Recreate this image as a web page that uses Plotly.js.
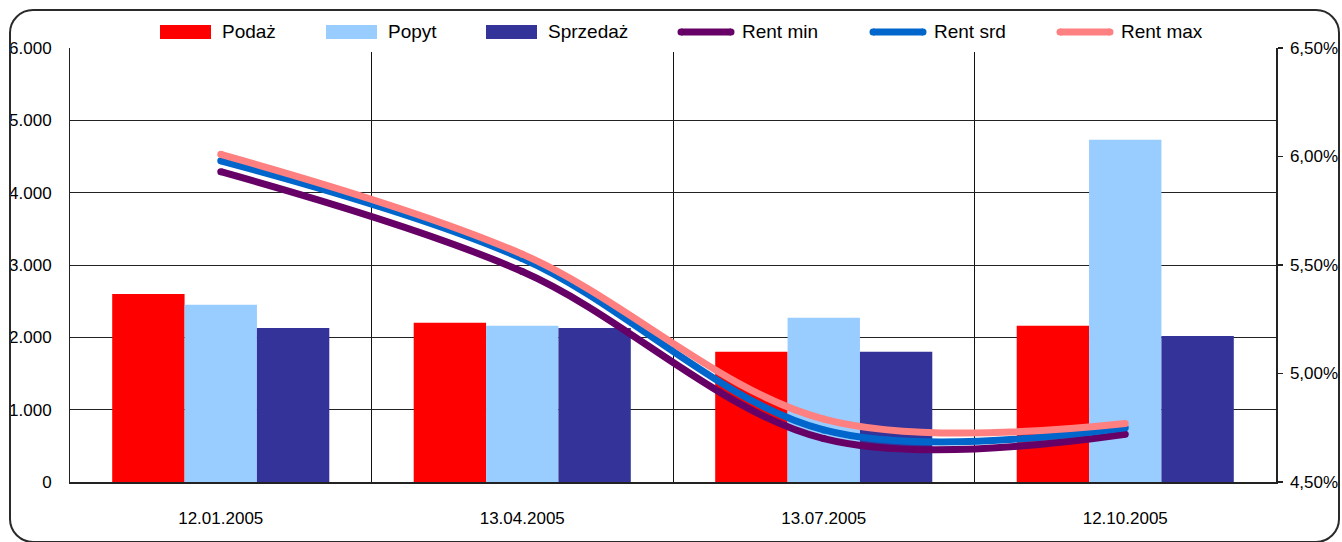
<!DOCTYPE html>
<html>
<head>
<meta charset="utf-8">
<script src="https://cdn.plot.ly/plotly-3.0.1.min.js"></script>
<style>
  html, body { margin: 0; padding: 0; background: #fff; }
  #wrap { position: relative; width: 1342px; height: 542px; overflow: hidden; }
  #chart { position: absolute; left: 0; top: 0; width: 1342px; height: 542px; }
  #frame {
    position: absolute; left: 9px; top: 9px; width: 1327px; height: 530px;
    border: 2px solid #2a2a2a; border-radius: 24px; pointer-events: none;
  }
</style>
</head>
<body>
<div id="wrap">
  <div id="chart"></div>
  <div id="frame"></div>
</div>
<script>
// Quarterly survey dates
const dates = ['12.01.2005', '13.04.2005', '13.07.2005', '12.10.2005'];

// Volumes (left axis)
const podaz    = [2600, 2200, 1800, 2160];
const popyt    = [2450, 2160, 2270, 4730];
const sprzedaz = [2130, 2130, 1800, 2020];

// Yields in percent (right axis)
const rentMin = [5.93, 5.47, 4.70, 4.72];
const rentSrd = [5.98, 5.53, 4.74, 4.75];
const rentMax = [6.01, 5.55, 4.79, 4.77];

// Series names and colours
const barNames  = ['Podaż', 'Popyt', 'Sprzedaż'];
const barColors = ['#FF0000', '#99CCFF', '#333399'];
const lineNames  = ['Rent min', 'Rent srd', 'Rent max'];
const lineColors = ['#660066', '#0066CC', '#FF8080'];

const FONT = 'Liberation Sans, Arial, Helvetica, sans-serif';

const barValues  = [podaz, popyt, sprzedaz];
const lineValues = [rentMin, rentSrd, rentMax];

const traces = [];
barValues.forEach((vals, i) => {
  traces.push({
    type: 'bar', x: dates, y: vals, name: barNames[i],
    marker: { color: barColors[i], line: { width: 0 } },
    xaxis: 'x', yaxis: 'y', hoverinfo: 'skip'
  });
});
lineValues.forEach((vals, i) => {
  traces.push({
    type: 'scatter', mode: 'lines+markers', x: dates, y: vals, name: lineNames[i],
    line: { color: lineColors[i], width: 7, shape: 'spline', smoothing: 1 },
    marker: { color: lineColors[i], size: 7, line: { width: 0 } },
    xaxis: 'x', yaxis: 'y2', hoverinfo: 'skip'
  });
});

// Plot area in pixels: x 70..1276, y 48..482
const L = 70, R = 1276, T = 48, B = 482;
const px = v => (v - L) / (R - L);
const py = v => (B - v) / (B - T);

// Legend box (white, sits over the top edge of the plot area)
const shapes = [{
  type: 'rect', xref: 'paper', yref: 'paper', layer: 'above',
  x0: px(134), x1: px(1225), y0: py(52), y1: py(14),
  fillcolor: '#ffffff', line: { width: 0 }
}];
const annotations = [];

const barSwatchX  = [160, 326, 486];
const lineSwatchX = [678, 870, 1057];
const legY = 32;

barNames.forEach((n, i) => {
  const x0 = barSwatchX[i];
  shapes.push({
    type: 'rect', xref: 'paper', yref: 'paper', layer: 'above',
    x0: px(x0), x1: px(x0 + 51), y0: py(legY + 7), y1: py(legY - 7),
    fillcolor: barColors[i], line: { width: 0 }
  });
  annotations.push({
    xref: 'paper', yref: 'paper', x: px(x0 + 60), y: py(legY),
    xanchor: 'left', yanchor: 'middle', showarrow: false, text: n,
    font: { family: FONT, size: 19, color: '#000' }
  });
});
lineNames.forEach((n, i) => {
  const x0 = lineSwatchX[i];
  shapes.push({
    type: 'line', xref: 'paper', yref: 'paper', layer: 'above',
    x0: px(x0 + 3), x1: px(x0 + 53), y0: py(legY), y1: py(legY),
    line: { color: lineColors[i], width: 7 }
  });
  [x0 + 3, x0 + 53].forEach(cx => {
    shapes.push({
      type: 'circle', xref: 'paper', yref: 'paper', layer: 'above',
      x0: px(cx - 3.5), x1: px(cx + 3.5), y0: py(legY + 3.5), y1: py(legY - 3.5),
      fillcolor: lineColors[i], line: { width: 0 }
    });
  });
  annotations.push({
    xref: 'paper', yref: 'paper', x: px(x0 + 62), y: py(legY),
    xanchor: 'left', yanchor: 'middle', showarrow: false, text: n,
    font: { family: FONT, size: 19, color: '#000' }
  });
});

const layout = {
  width: 1342, height: 542,
  margin: { l: L, r: 1342 - R, t: T, b: 542 - B, pad: 0 },
  paper_bgcolor: '#ffffff', plot_bgcolor: '#ffffff',
  separators: ',.',
  showlegend: false,
  barmode: 'group', bargap: 0.28, bargroupgap: 0,
  font: { family: FONT, size: 17, color: '#000' },
  xaxis: {
    type: 'category', tickson: 'boundaries',
    showgrid: true, gridcolor: '#111', gridwidth: 1,
    showline: true, linecolor: '#222', linewidth: 1.5,
    ticks: '', ticklabelstandoff: 20,
    tickfont: { family: FONT, size: 17, color: '#000' },
    zeroline: false, fixedrange: true
  },
  yaxis: {
    range: [0, 6000], dtick: 1000, tickformat: ',d',
    showgrid: true, gridcolor: '#222', gridwidth: 1,
    showline: true, linecolor: '#222', linewidth: 1,
    ticks: '', ticklabelstandoff: 14, zeroline: false,
    tickfont: { family: FONT, size: 17, color: '#000' },
    fixedrange: true
  },
  yaxis2: {
    overlaying: 'y', side: 'right',
    range: [4.5, 6.5], dtick: 0.5, tickformat: '.2f', ticksuffix: '%',
    showgrid: false, zeroline: false,
    showline: true, linecolor: '#222', linewidth: 1.5,
    ticks: 'outside', ticklen: 5, tickcolor: '#222', tickwidth: 1.5,
    ticklabelstandoff: 4,
    tickfont: { family: FONT, size: 17, color: '#000' },
    fixedrange: true
  },
  shapes: shapes,
  annotations: annotations
};

Plotly.newPlot('chart', traces, layout, { staticPlot: true, displayModeBar: false });
</script>
</body>
</html>
